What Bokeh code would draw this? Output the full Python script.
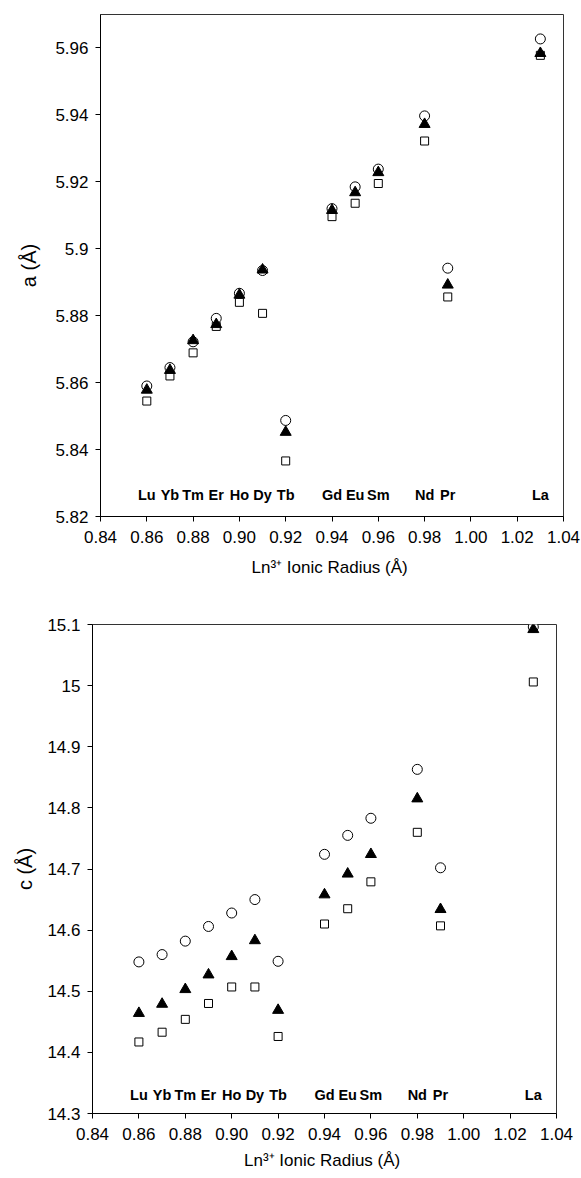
from bokeh.plotting import figure
from bokeh.layouts import column, row
from bokeh.models import FixedTicker, CustomJSTickFormatter, Range1d, ColumnDataSource
from bokeh.core.properties import value
from bokeh.embed import file_html
from bokeh.resources import INLINE

# Ln3+ ionic radii (Å) and element symbols
radius = [0.86, 0.87, 0.88, 0.89, 0.90, 0.91, 0.92, 0.94, 0.95, 0.96, 0.98, 0.99, 1.03]
elements = ["Lu", "Yb", "Tm", "Er", "Ho", "Dy", "Tb", "Gd", "Eu", "Sm", "Nd", "Pr", "La"]

# lattice parameter a (Å), three series
a_circle = [5.8590, 5.8645, 5.8722, 5.8792, 5.8867, 5.8935, 5.8487, 5.9120, 5.9185, 5.9238, 5.9397, 5.8942, 5.9627]
a_triangle = [5.8578, 5.8637, 5.8726, 5.8774, 5.8862, 5.8937, 5.8452, 5.9115, 5.9168, 5.9228, 5.9372, 5.8892, 5.9584]
a_square = [5.8545, 5.8620, 5.8689, 5.8768, 5.8840, 5.8807, 5.8366, 5.9096, 5.9136, 5.9195, 5.9322, 5.8856, 5.9578]

# lattice parameter c (Å), three series
c_circle = [14.548, 14.560, 14.582, 14.606, 14.628, 14.650, 14.549, 14.724, 14.755, 14.783, 14.863, 14.702, 15.096]
c_triangle = [14.464, 14.479, 14.503, 14.527, 14.557, 14.583, 14.469, 14.658, 14.692, 14.724, 14.815, 14.634, 15.092]
c_square = [14.417, 14.433, 14.454, 14.480, 14.507, 14.507, 14.426, 14.610, 14.635, 14.679, 14.760, 14.607, 15.006]

x_ticks = [0.84, 0.86, 0.88, 0.90, 0.92, 0.94, 0.96, 0.98, 1.00, 1.02, 1.04]
a_ticks = [5.82, 5.84, 5.86, 5.88, 5.90, 5.92, 5.94, 5.96]
c_ticks = [14.3, 14.4, 14.5, 14.6, 14.7, 14.8, 14.9, 15.0, 15.1]

FONT = "Liberation Sans"


def make_panel(y_c, y_t, y_s, y_range, y_ticks, y_label, label_y, height,
               border_left, border_right, border_top, border_bottom,
               y_label_standoff, x_label_standoff):
    p = figure(width=581, height=height, output_backend="svg", toolbar_location=None,
               x_range=Range1d(0.84, 1.04), y_range=Range1d(*y_range),
               min_border_left=border_left, min_border_right=border_right,
               min_border_top=border_top, min_border_bottom=border_bottom)
    p.grid.visible = False
    p.outline_line_color = "#333333"
    p.outline_line_width = 1
    p.background_fill_color = "white"
    p.border_fill_color = "white"

    src = ColumnDataSource(dict(x=radius, c=y_c, t=y_t, s=y_s, el=elements))
    p.scatter("x", "s", source=src, marker="square", size=8, fill_color="white",
              line_color="black", line_width=1)
    p.scatter("x", "c", source=src, marker="circle", size=10, fill_color="white",
              line_color="black", line_width=1)
    p.scatter("x", "t", source=src, marker="triangle", size=11, fill_color="black",
              line_color="black", line_width=1)

    p.text(x="x", y=label_y, text="el", source=src, text_font=value(FONT),
           text_font_style="bold", text_font_size="14.5px", text_align="center",
           text_baseline="middle", text_color="black")

    for ax in (p.xaxis, p.yaxis):
        ax.minor_tick_line_color = None
        ax.major_tick_in = 0
        ax.major_tick_out = 5
        ax.axis_line_color = "black"
        ax.major_tick_line_color = "black"
        ax.major_label_text_font = FONT
        ax.major_label_text_font_size = "17px"
        ax.major_label_text_color = "black"
        ax.axis_label_text_font = FONT
        ax.axis_label_text_font_style = "normal"
        ax.axis_label_text_color = "black"

    p.xaxis.ticker = FixedTicker(ticks=x_ticks)
    p.xaxis.formatter = CustomJSTickFormatter(code="return tick.toFixed(2);")
    p.xaxis.major_label_standoff = 9
    p.xaxis.axis_label = "Ln\u00b3\u207a  Ionic Radius (\u00c5)"
    p.xaxis.axis_label_text_font_size = "17px"
    p.xaxis.axis_label_standoff = x_label_standoff

    p.yaxis.ticker = FixedTicker(ticks=y_ticks)
    p.yaxis.formatter = CustomJSTickFormatter(
        code="return String(parseFloat(tick.toFixed(2)));")
    p.yaxis.major_label_standoff = 7
    p.yaxis.axis_label = y_label
    p.yaxis.axis_label_text_font_size = "20px"
    p.yaxis.axis_label_standoff = y_label_standoff
    return p


top = make_panel(a_circle, a_triangle, a_square, (5.82, 5.97), a_ticks, "a (\u00c5)",
                 5.8263, 595, 100, 18, 14, 79, 12, 12)
bottom = make_panel(c_circle, c_triangle, c_square, (14.3, 15.1), c_ticks, "c (\u00c5)",
                    14.33, 583, 92, 25, 29, 65, 8, 8)

# each panel sits in its own row so the two frames keep independent left edges
layout = column(row(top), row(bottom), spacing=0)
open("out.html", "w").write(file_html(layout, INLINE))
